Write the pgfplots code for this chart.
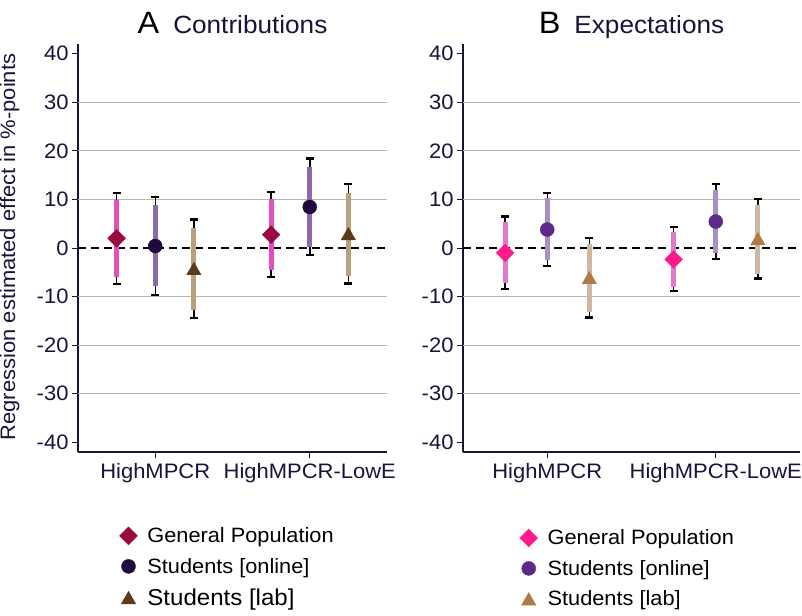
\documentclass[border=0pt]{standalone}
\usepackage{pgfplots}
\pgfplotsset{compat=1.18}
\usepackage{pgfplotstable}
\usepackage{fontspec}
\setmainfont{Liberation Sans}[FakeStretch=1.05]

\definecolor{navy}{HTML}{16143C}
\definecolor{gridc}{HTML}{B5B9A5}
% panel A
\definecolor{gpA}{HTML}{9A0A3E}   \definecolor{gpAbar}{HTML}{E34FBF}
\definecolor{onA}{HTML}{1E0B3C}   \definecolor{onAbar}{HTML}{8C6BAA}
\definecolor{labA}{HTML}{5C3A18}  \definecolor{labAbar}{HTML}{BBA080}
% panel B
\definecolor{gpB}{HTML}{FF1A8C}   \definecolor{gpBbar}{HTML}{E07AC8}
\definecolor{onB}{HTML}{5B2A8A}   \definecolor{onBbar}{HTML}{A890C4}
\definecolor{labB}{HTML}{B07A48}  \definecolor{labBbar}{HTML}{CDB9A2}

% x  estimate  90% CI  95% CI
\pgfplotstableread{
x y lo90 hi90 lo95 hi95
-0.25 2.0 -5.9 9.8 -7.4 11.3
0.75 2.75 -4.5 10.0 -6.0 11.5
}\gpa
\pgfplotstableread{
x y lo90 hi90 lo95 hi95
0 0.4 -7.9 8.8 -9.7 10.5
1 8.45 0.2 16.7 -1.4 18.4
}\ona
\pgfplotstableread{
x y lo90 hi90 lo95 hi95
0.25 -4.25 -12.7 4.2 -14.4 5.9
1.25 2.95 -5.7 11.4 -7.3 13.2
}\laba
\pgfplotstableread{
x y lo90 hi90 lo95 hi95
-0.25 -1.0 -7.3 5.3 -8.4 6.5
0.75 -2.35 -8.0 3.2 -8.9 4.3
}\gpb
\pgfplotstableread{
x y lo90 hi90 lo95 hi95
0 3.8 -2.5 10.2 -3.7 11.3
1 5.45 -1.1 11.9 -2.3 13.2
}\onb
\pgfplotstableread{
x y lo90 hi90 lo95 hi95
0.25 -6.1 -13.1 0.9 -14.3 2.1
1.25 1.9 -5.3 8.8 -6.3 10.1
}\labb

% whisker (95%), thick bar (90%), then the marker
\newcommand{\ciplot}[3]{%
  \addplot[only marks, mark=none, forget plot,
    error bars/.cd, y dir=both, y explicit,
    error bar style={draw=black, line width=1.5bp},
    error mark options={rotate=90, draw=black, line width=2.4bp, mark size=4bp}]
    table[x=x, y=y, y error plus expr=\thisrow{hi95}-\thisrow{y},
          y error minus expr=\thisrow{y}-\thisrow{lo95}] {#1};
  \addplot[only marks, mark=none, forget plot,
    error bars/.cd, y dir=both, y explicit,
    error bar style={draw=#2, line width=4.8bp}, error mark=none]
    table[x=x, y=y, y error plus expr=\thisrow{hi90}-\thisrow{y},
          y error minus expr=\thisrow{y}-\thisrow{lo90}] {#1};
  \addplot[only marks, #3] table[x=x, y=y] {#1};
}

\pgfplotsset{
  panel/.style={
    scale only axis, height=408bp,
    xmin=-0.5, xmax=1.5, ymin=-42, ymax=42,
    axis x line*=bottom, axis y line*=left,
    axis line style={-, draw=navy, line width=1.2bp},
    tick align=outside, major tick length=6bp,
    tick style={draw=navy, line width=1bp},
    xtick={0,1}, xticklabels={HighMPCR, HighMPCR-LowE},
    ytick={-40,-30,...,40},
    yticklabels={-40,-30,-20,-10,0,10,20,30,40},
    ticklabel style={font=\fontsize{21}{23}\selectfont, text=navy},
    xticklabel style={anchor=base, yshift=-20bp},
    extra y ticks={-30,-20,-10,10,20,30},
    extra y tick labels={},
    extra y tick style={ymajorgrids=true, major tick length=0pt},
    grid style={draw=gridc, line width=1bp},
    title style={at={(0.5,1)}, anchor=base, yshift=5bp},
    legend cell align=left,
    legend style={anchor=north west, draw=none, fill=none, inner sep=0pt,
      font=\fontsize{20.8}{22}\selectfont, row sep=10bp,
      /tikz/every odd column/.append style={column sep=8bp}},
  },
  dia/.style={mark=square*, mark size=6.3bp, mark options={rotate=45, draw=#1, fill=#1}},
  cir/.style={mark=*, mark size=7bp, mark options={draw=#1, fill=#1}},
  tri/.style={mark=triangle*, mark size=8.3bp, mark options={yshift=-2bp, draw=#1, fill=#1}},
}

\begin{document}
\begin{tikzpicture}
\useasboundingbox (0,0) rectangle (802bp,-616bp);

\node[rotate=90, anchor=base, font=\fontsize{21}{23}\selectfont, text=navy]
  at (15bp,-247bp) {Regression estimated effect in \%-points};

\begin{axis}[panel, at={(78bp,-452bp)}, anchor=south west, width=309bp,
  title={\fontsize{31}{31}\selectfont A\hspace{14bp}\fontsize{25}{25}\selectfont\textcolor{navy}{Contributions}},
  legend style={at={(0.134,-0.18)}}]
\addplot[forget plot, black, line width=1.2bp, dash pattern=on 8bp off 5bp]
  coordinates {(-0.5,0) (1.5,0)};
\ciplot{\gpa}{gpAbar}{dia=gpA}
\addlegendentry{General Population}
\ciplot{\ona}{onAbar}{cir=onA}
\addlegendentry{Students [online]}
\ciplot{\laba}{labAbar}{tri=labA}
\addlegendentry{\fontsize{23}{23}\selectfont Students [lab]}
\end{axis}

\begin{axis}[panel, at={(463bp,-452bp)}, anchor=south west, width=337bp,
  title={\fontsize{31}{31}\selectfont B\hspace{14bp}\fontsize{25}{25}\selectfont\textcolor{navy}{Expectations}},
  legend style={at={(0.168,-0.185)}}]
\addplot[forget plot, black, line width=1.2bp, dash pattern=on 8bp off 5bp]
  coordinates {(-0.5,0) (1.5,0)};
\ciplot{\gpb}{gpBbar}{dia=gpB}
\addlegendentry{General Population}
\ciplot{\onb}{onBbar}{cir=onB}
\addlegendentry{Students [online]}
\ciplot{\labb}{labBbar}{tri=labB}
\addlegendentry{Students [lab]}
\end{axis}
\end{tikzpicture}
\end{document}
